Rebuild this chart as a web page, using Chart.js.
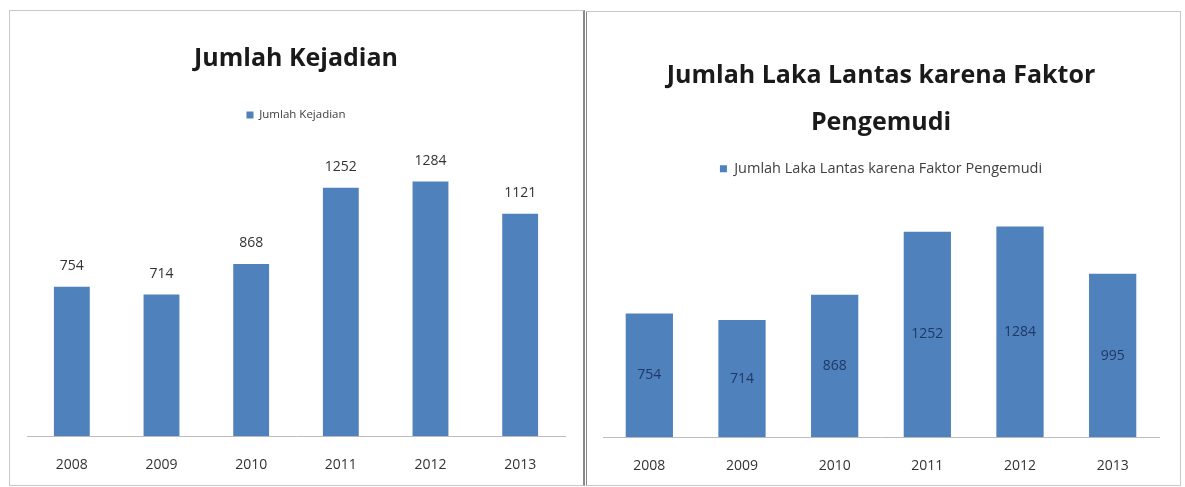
<!DOCTYPE html>
<html>
<head>
<meta charset="utf-8">
<script src="https://cdn.jsdelivr.net/npm/chart.js@4.4.1/dist/chart.umd.min.js"></script>
<style>
  body { margin: 0; background: #fff; width: 1185px; height: 487px; overflow: hidden; position: relative; }
  .panel { position: absolute; background: #fff; box-sizing: border-box; }
  #leftPanel { left: 9px; top: 10px; width: 576px; height: 476px; border: 1px solid #c8c8c8; border-right: 2px solid #8a8a8a; }
  #rightPanel { left: 586px; top: 11px; width: 595px; height: 475px; border: 1px solid #c8c8c8; border-left: 1px solid #8a8a8a; }
  canvas { display: block; }
</style>
</head>
<body>
<div class="panel" id="leftPanel"><canvas id="chartLeft" width="573" height="474"></canvas></div>
<div class="panel" id="rightPanel"><canvas id="chartRight" width="593" height="473"></canvas></div>
<script>
// DATA
const years = ["2008", "2009", "2010", "2011", "2012", "2013"];
const kejadian = [754, 714, 868, 1252, 1284, 1121];
const pengemudi = [754, 714, 868, 1252, 1284, 995];

const FONT = '"Open Sans", sans-serif';
const BAR = "#4f81bd";

// draws value labels, above the bar or in its middle
const valueLabels = {
    id: "valueLabels",
    afterDatasetsDraw(chart, args, opts) {
        const ctx = chart.ctx;
        const meta = chart.getDatasetMeta(0);
        const data = chart.data.datasets[0].data;
        ctx.save();
        ctx.font = opts.size + "px " + FONT;
        ctx.fillStyle = opts.color;
        ctx.textAlign = "center";
        ctx.textBaseline = "middle";
        meta.data.forEach((bar, i) => {
            const y = opts.inside ? (bar.y + bar.base) / 2 : bar.y - 21;
            ctx.fillText(String(data[i]), bar.x, y);
        });
        ctx.restore();
    }
};

function makeChart(id, label, values, cfg) {
    return new Chart(document.getElementById(id), {
        type: "bar",
        data: {
            labels: years,
            datasets: [{
                label: label,
                data: values,
                backgroundColor: BAR,
                borderWidth: 0,
                barPercentage: cfg.barPct,
                categoryPercentage: 1
            }]
        },
        options: {
            responsive: false,
            animation: false,
            layout: { padding: cfg.padding },
            plugins: {
                title: {
                    display: true,
                    text: cfg.title,
                    color: "#1a1a1a",
                    font: { family: FONT, size: 25, weight: "bold", lineHeight: 1.85 },
                    padding: cfg.titlePad
                },
                legend: {
                    display: true,
                    labels: {
                        boxWidth: 7, boxHeight: 7,
                        color: "#404040",
                        font: { family: FONT, size: cfg.legendSize },
                        padding: 4
                    }
                },
                tooltip: { enabled: false },
                valueLabels: cfg.labels
            },
            scales: {
                y: { display: false, min: 0, max: cfg.yMax },
                x: {
                    grid: { display: false, drawTicks: false },
                    border: { display: true, color: "#bdbdbd", width: 1 },
                    ticks: { color: "#333", padding: 20, font: { family: FONT, size: 14 } }
                }
            }
        },
        plugins: [valueLabels]
    });
}

makeChart("chartLeft", "Jumlah Kejadian", kejadian, {
    title: "Jumlah Kejadian",
    titlePad: { top: 25, bottom: 23 },
    legendSize: 11.5,
    barPct: 0.40,
    yMax: 1540,
    padding: { left: 17, right: 18, top: 0, bottom: -8 },
    labels: { size: 14, color: "#333", inside: false }
});

makeChart("chartRight", "Jumlah Laka Lantas karena Faktor Pengemudi", pengemudi, {
    title: ["Jumlah Laka Lantas karena Faktor", "Pengemudi"],
    titlePad: { top: 41, bottom: 12 },
    legendSize: 14.5,
    barPct: 0.51,
    yMax: 1530,
    padding: { left: 16, right: 21, top: 0, bottom: -9 },
    labels: { size: 14, color: "#1f3864", inside: true }
});
</script>
</body>
</html>
